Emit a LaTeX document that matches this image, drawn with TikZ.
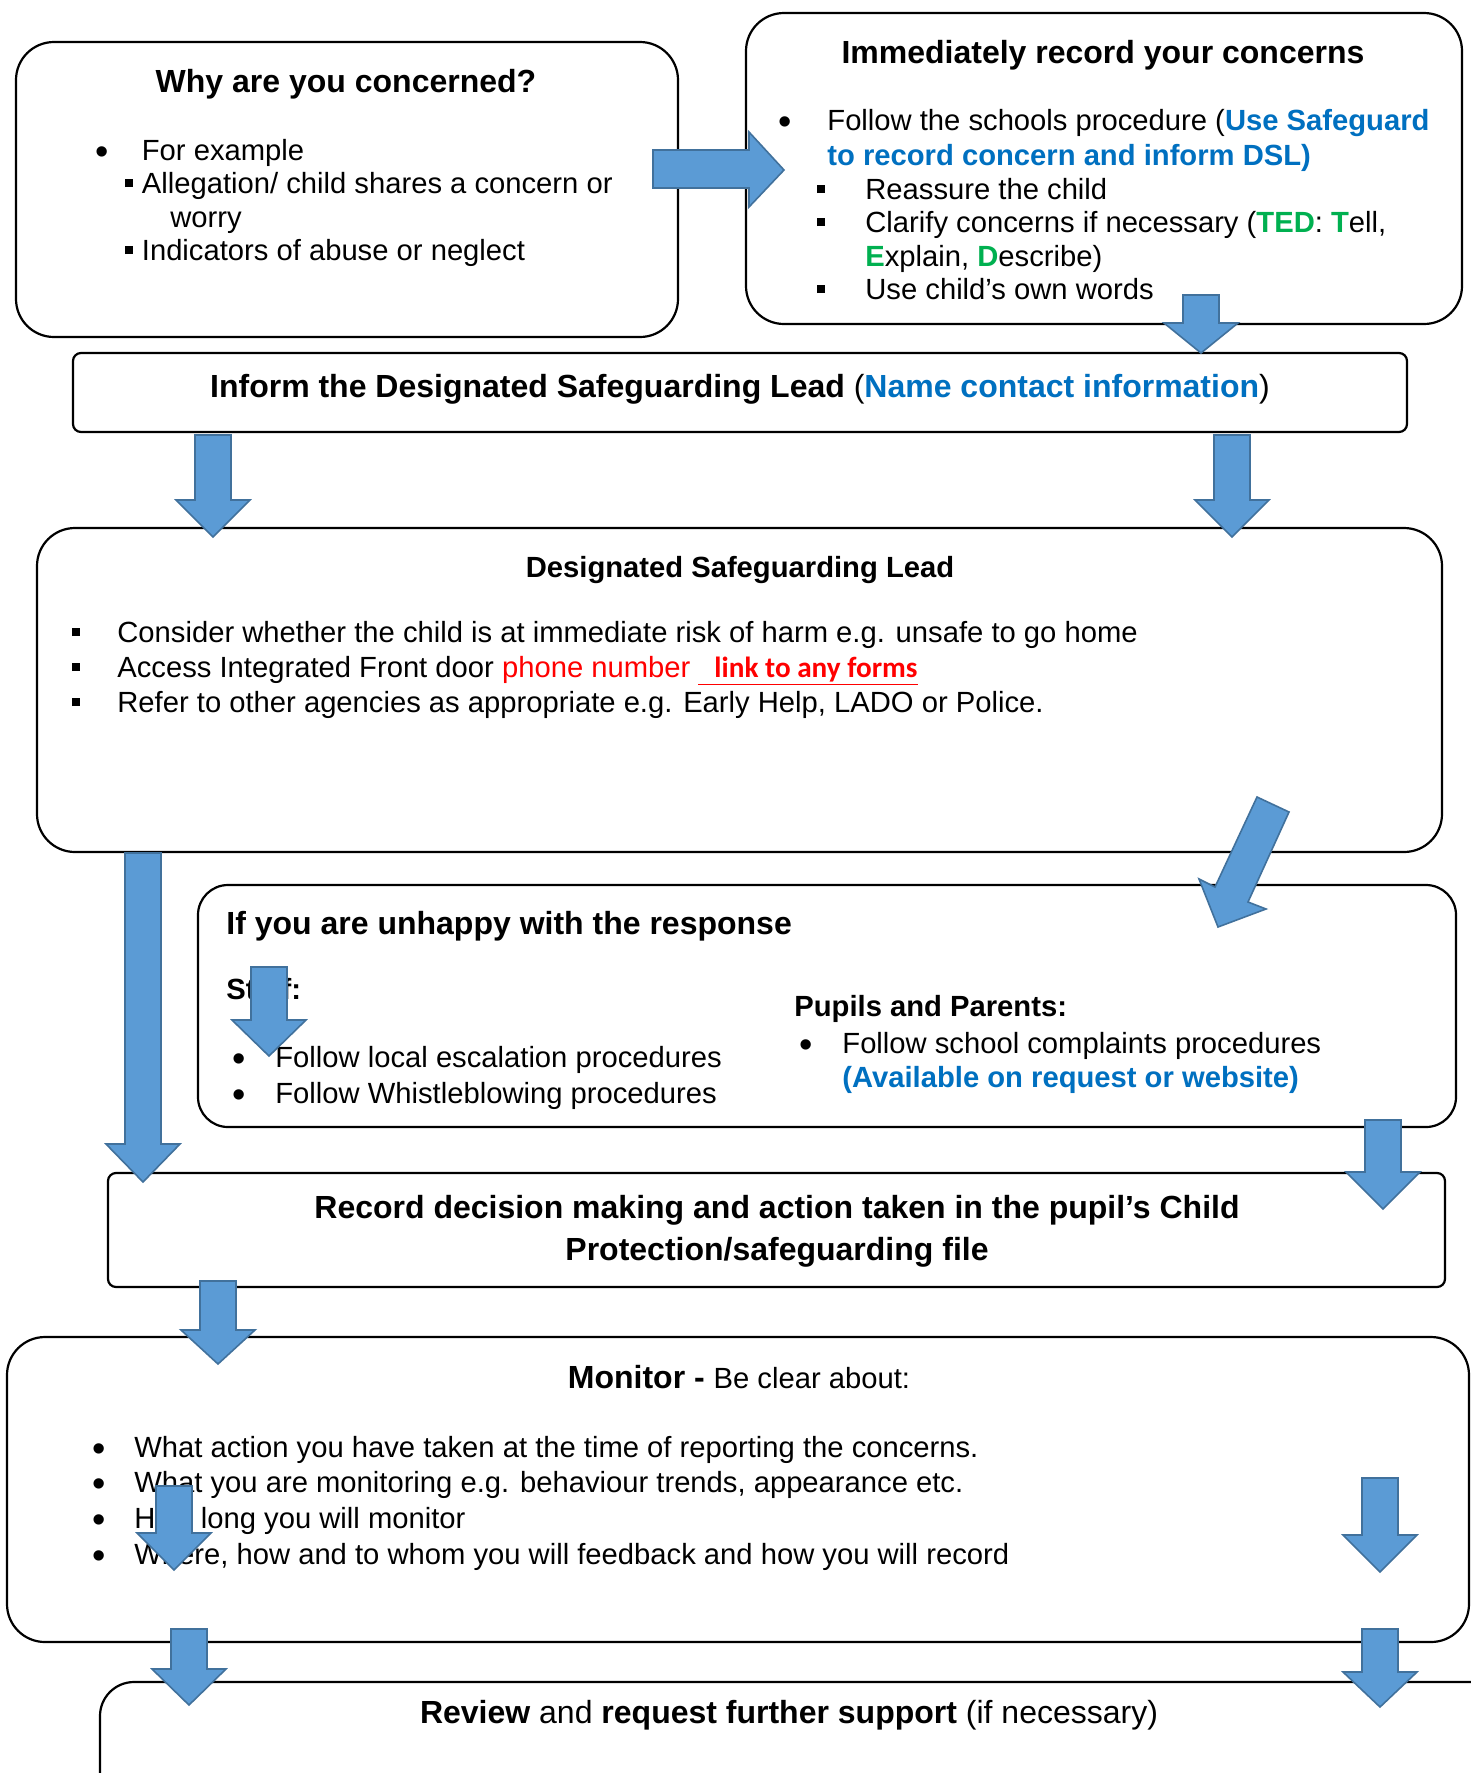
\documentclass[tikz,border=0pt]{standalone}
\usepackage{fontspec}
\setmainfont{Liberation Sans}
\newfontfamily\calibfont{Carlito}
\usetikzlibrary{fit}
\definecolor{arrowfill}{HTML}{5B9BD5}
\definecolor{arrowline}{HTML}{41719C}
\definecolor{linkblue}{HTML}{0070C0}
\definecolor{tedgreen}{HTML}{00B050}
\tikzset{
  roundbox/.style={draw, line width=1.1pt, rounded corners=19pt, inner sep=0pt},
  flatbox/.style={draw, line width=1.1pt, rounded corners=4pt, inner sep=0pt},
  blockarrow/.style={fill=arrowfill, draw=arrowline, line width=0.8pt, line join=miter},
  bodytext/.style={anchor=base west, inner sep=0pt, font=\fontsize{14.6}{17.5}\selectfont},
  headtext/.style={anchor=base, inner sep=0pt, font=\fontsize{16}{19}\selectfont\bfseries}
}
\newcommand{\downblock}[4]{% x centre, shaft top, head base, tip
  \filldraw[blockarrow] (#1-18,#2) -- (#1+18,#2) -- (#1+18,#3) -- (#1+37,#3)
    -- (#1,#4) -- (#1-37,#3) -- (#1-18,#3) -- cycle;}
\newcommand{\grn}[1]{\textcolor{tedgreen}{\bfseries #1}}
\newcommand{\sqb}{\rule[3pt]{4pt}{4pt}}
\newcommand{\rndb}{\raisebox{-2pt}{\fontsize{19}{19}\selectfont •}}

\begin{document}
\begin{tikzpicture}[x=0.5pt, y=-0.5pt]
  \clip (0,0) rectangle (1471,1773);
  \fill[white] (0,0) rectangle (1471,1773);

  % boxes
  \node[roundbox, fit={(16,42) (678,337)}] (why) {};
  \node[roundbox, fit={(746,13) (1462,324)}] (record) {};
  \node[flatbox, fit={(73,353) (1407,432)}] (inform) {};
  \node[roundbox, fit={(37,528) (1442,852)}] (dsl) {};
  \node[roundbox, rounded corners=15pt, fit={(198,885) (1456,1127)}] (unhappy) {};
  \node[flatbox, fit={(108,1173) (1445,1287)}] (decision) {};
  \node[roundbox, fit={(7,1337) (1469,1642)}] (monitor) {};
  \node[roundbox, rounded corners=17pt, fit={(100,1682) (1560,1900)}] (review) {};

  % why are you concerned
  \node[headtext] (whyhead) at (346,92) {Why are you concerned?};
  \node[bodytext] (whyb1) at (95,160) {\rndb};
  \node[bodytext] (whyt1) at (141.5,160) {For example};
  \node[bodytext] (whyb2) at (125,193) {\sqb};
  \node[bodytext] (whyt2) at (141.5,193) {Allegation/ child shares a concern or};
  \node[bodytext] (whyt3) at (170,227) {worry};
  \node[bodytext] (whyb4) at (125,260) {\sqb};
  \node[bodytext] (whyt4) at (141.5,260) {Indicators of abuse or neglect};

  % record your concerns
  \node[headtext] (rechead) at (1103,63) {Immediately record your concerns};
  \node[bodytext] (recb1) at (778,130) {\rndb};
  \node[bodytext] (rect1) at (827,130) {Follow the schools procedure (\textcolor{linkblue}{\bfseries Use Safeguard}};
  \node[bodytext] (rect2) at (827,165) {\textcolor{linkblue}{\bfseries to record concern and inform DSL)}};
  \node[bodytext] (recb3) at (817,199) {\sqb};
  \node[bodytext] (rect3) at (865,199) {Reassure the child};
  \node[bodytext] (recb4) at (817,232) {\sqb};
  \node[bodytext] (rect4) at (865,232) {Clarify concerns if necessary (\grn{TED}: \grn{T}ell,};
  \node[bodytext] (rect5) at (865,266) {\grn{E}xplain, \grn{D}escribe)};
  \node[bodytext] (recb6) at (817,299) {\sqb};
  \node[bodytext] (rect6) at (865,299) {Use child’s own words};

  % inform the DSL
  \node[headtext] (infotext) at (740,397)
    {Inform the Designated Safeguarding Lead {\mdseries (}\textcolor{linkblue}{Name contact information}{\mdseries )}};

  % DSL
  \node[headtext, font=\fontsize{14.6}{17.5}\selectfont\bfseries] (dslhead) at (740,577) {Designated Safeguarding Lead};
  \node[bodytext] (dslb1) at (72,642) {\sqb};
  \node[bodytext] (dslt1) at (117,642) {Consider whether the child is at immediate risk of harm e.g. unsafe to go home};
  \node[bodytext] (dslb2) at (72,677) {\sqb};
  \node[bodytext] (dslt2) at (117,677) {Access Integrated Front door \textcolor{red}{phone number
    {\calibfont\bfseries\underline{\hspace{8pt}link to any forms}}}};
  \node[bodytext] (dslb3) at (72,712) {\sqb};
  \node[bodytext] (dslt3) at (117,712) {Refer to other agencies as appropriate e.g. Early Help, LADO or Police.};

  % unhappy with the response
  \node[headtext, anchor=base west] (unhead) at (226,934) {If you are unhappy with the response};
  \node[bodytext, font=\fontsize{14.6}{17.5}\selectfont\bfseries] (staff) at (226,999) {Staff:};
  \node[bodytext] (stb1) at (232,1067) {\rndb};
  \node[bodytext] (stt1) at (275,1067) {Follow local escalation procedures};
  \node[bodytext] (stb2) at (232,1103) {\rndb};
  \node[bodytext] (stt2) at (275,1103) {Follow Whistleblowing procedures};
  \node[bodytext, font=\fontsize{14.6}{17.5}\selectfont\bfseries] (pupils) at (794,1016) {Pupils and Parents:};
  \node[bodytext] (ppb1) at (799,1053) {\rndb};
  \node[bodytext] (ppt1) at (842,1053) {Follow school complaints procedures};
  \node[bodytext] (ppt2) at (842,1087) {\textcolor{linkblue}{\bfseries (Available on request or website)}};

  % record decision
  \node[headtext] (dec1) at (777,1218) {Record decision making and action taken in the pupil’s Child};
  \node[headtext] (dec2) at (777,1260) {Protection/safeguarding file};

  % monitor
  \node[headtext] (monhead) at (739,1388) {Monitor - {\mdseries\fontsize{14.6}{17.5}\selectfont Be clear about:}};
  \node[bodytext] (monb1) at (92,1457) {\rndb};
  \node[bodytext] (mont1) at (134,1457) {What action you have taken at the time of reporting the concerns.};
  \node[bodytext] (monb2) at (92,1492) {\rndb};
  \node[bodytext] (mont2) at (134,1492) {What you are monitoring e.g. behaviour trends, appearance etc.};
  \node[bodytext] (monb3) at (92,1528) {\rndb};
  \node[bodytext] (mont3) at (134,1528) {How long you will monitor};
  \node[bodytext] (monb4) at (92,1564) {\rndb};
  \node[bodytext] (mont4) at (134,1564) {Where, how and to whom you will feedback and how you will record};

  % review
  \node[headtext] (revhead) at (789,1723) {Review {\mdseries and} request further support {\mdseries (if necessary)}};

  % block arrows
  \filldraw[blockarrow] (653,150) -- (749,150) -- (749,132) -- (784,170)
    -- (749,207) -- (749,188) -- (653,188) -- cycle; % why -> record
  \downblock{1201}{295}{323}{353}
  \downblock{213}{435}{500}{537}
  \downblock{1232}{435}{500}{537}
  \downblock{143}{853}{1144}{1182} % long one past the unhappy box
  \filldraw[blockarrow] (1257,797) -- (1289,812) -- (1248,902) -- (1266,909)
    -- (1218,927) -- (1199,879) -- (1215,887) -- cycle; % dsl -> unhappy
  \downblock{269}{967}{1020}{1056}
  \downblock{1383}{1120}{1172}{1209}
  \downblock{218}{1281}{1330}{1364}
  \downblock{174}{1486}{1533}{1570}
  \downblock{1380}{1478}{1535}{1572}
  \downblock{189}{1629}{1669}{1705}
  \downblock{1380}{1629}{1672}{1707}
\end{tikzpicture}
\end{document}
